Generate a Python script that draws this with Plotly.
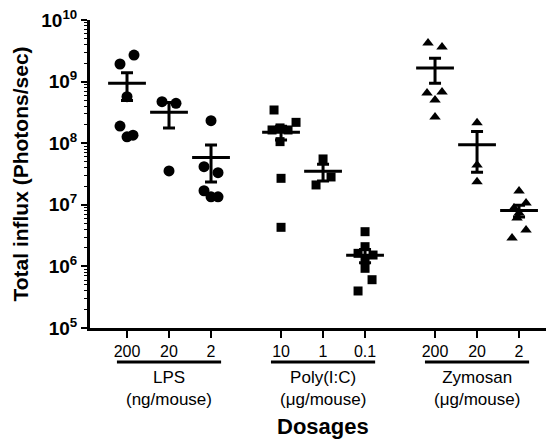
import numpy as np
import plotly.graph_objects as go

# ---------------- data ----------------
dose_labels = ["200", "20", "2", "10", "1", "0.1", "200", "20", "2"]
group_names = ["LPS<br>(ng/mouse)", "Poly(I:C)<br>(μg/mouse)", "Zymosan<br>(μg/mouse)"]

lps_200 = [2.7e9, 1.93e9, 5.7e8, 1.9e8, 1.27e8, 1.35e8]
lps_20 = [4.72e8, 4.44e8, 3.54e7]
lps_2 = [2.32e8, 4.16e7, 3.32e7, 1.69e7, 1.35e7, 1.35e7]

poly_10 = [3.46e8, 2.18e8, 1.64e8, 1.77e8, 1.64e8, 1.06e8, 2.69e7, 4.31e6]
poly_1 = [5.55e7, 2.83e7, 2.10e7]
poly_01 = [3.66e6, 2.09e6, 1.63e6, 1.53e6, 1.27e6, 9.31e5, 6.08e5, 3.99e5]

zym_200 = [4.24e9, 3.65e9, 6.78e8, 6.53e8, 5.02e8, 2.66e8]
zym_20 = [2.15e8, 4.43e7, 2.37e7]
zym_2 = [1.67e7, 1.07e7, 8.87e6, 7.36e6, 6.11e6, 3.9e6, 2.89e6]

threshold = 1.37e6

# ---------------- layout helpers (positions / styles) ----------------
xpos = [0, 1, 2, 3.667, 4.667, 5.667, 7.333, 8.333, 9.333]
group_centers = [1, 4.667, 8.333]
jit = 1 / 42.0  # one pixel in x units
jitter = [
    [7, -7, 0, -7, 0, 6],
    [-7, 7, 0],
    [0, -7, 7, -7, 0, 7],
    [-7, 15, -9, -1, 7, -1, 0, 0],
    [0, 8, -7],
    [0, 0, -7, 8, 0, 0, 7, -7],
    [-7, 7, 7, -8, 0, 0],
    [0, 0, 0],
    [0, 7, -5, 0, -2, 7, -7],
]
series = [lps_200, lps_20, lps_2, poly_10, poly_1, poly_01, zym_200, zym_20, zym_2]
symbols = ["circle"] * 3 + ["square"] * 3 + ["triangle-up"] * 3
sizes = [11] * 3 + [9] * 3 + [10] * 3

fig = go.Figure()

for i, vals in enumerate(series):
    xs = [xpos[i] + j * jit for j in jitter[i]]
    fig.add_trace(go.Scatter(
        x=xs, y=vals, mode="markers",
        marker=dict(symbol=symbols[i], size=sizes[i], color="black", line=dict(width=0)),
        showlegend=False, hoverinfo="y"))

# mean +/- SEM
means = [float(np.mean(v)) for v in series]
sems = [float(np.std(v, ddof=1) / np.sqrt(len(v))) for v in series]
fig.add_trace(go.Scatter(
    x=xpos, y=means, mode="markers",
    marker=dict(symbol="line-ew", size=27, color="black", line=dict(width=3, color="black")),
    error_y=dict(type="data", array=sems, symmetric=True, thickness=3, width=6, color="black"),
    showlegend=False, hoverinfo="y"))

# threshold dashed line
fig.add_shape(type="line", xref="paper", yref="y", x0=0, x1=0.995,
              y0=np.log10(threshold), y1=np.log10(threshold),
              line=dict(color="black", width=3, dash="10px,6px"))

# group underlines and labels
for c, name in zip(group_centers, group_names):
    fig.add_shape(type="line", xref="x", yref="paper", x0=c - 1.24, x1=c + 1.24,
                  y0=-0.110, y1=-0.110, line=dict(color="black", width=3))
    fig.add_annotation(x=c, y=-0.122, xref="x", yref="paper", text=name,
                       showarrow=False, yanchor="top", xanchor="center",
                       font=dict(size=17, color="black", family="Liberation Sans, Arial"))

fig.add_annotation(x=group_centers[1], y=-0.321, xref="x", yref="paper",
                   text="<b>Dosages</b>", showarrow=False, yanchor="middle",
                   font=dict(size=22, color="black", family="Liberation Sans, Arial"))

ytickvals = [1e5, 1e6, 1e7, 1e8, 1e9, 1e10]
yticktext = ["<b>10<sup>%d</sup></b>" % k for k in range(5, 11)]

# the page body adds an 8px margin, so the figure is 8px smaller on each side
fig.update_layout(
    width=546, height=433,
    margin=dict(l=82, r=4, t=12, b=113),
    plot_bgcolor="white", paper_bgcolor="white",
    font=dict(family="Liberation Sans, Arial", color="black"),
    xaxis=dict(
        range=[-0.881, 10.07], tickvals=xpos, ticktext=dose_labels, automargin=False,
        showgrid=False, zeroline=False, showline=True, linecolor="black", linewidth=3,
        ticks="outside", ticklen=7, tickwidth=2, tickcolor="black",
        tickfont=dict(size=16, color="black")),
    yaxis=dict(
        type="log", range=[5, 10], tickvals=ytickvals, ticktext=yticktext, automargin=False,
        ticklabeloverflow="allow",
        showgrid=False, zeroline=False, showline=True, linecolor="black", linewidth=3,
        ticks="outside", ticklen=6, tickwidth=2, tickcolor="black",
        tickfont=dict(size=19, color="black"),
        minor=dict(ticks="outside", ticklen=3, tickwidth=1, tickcolor="black",
                   dtick="D1", showgrid=False),
        title=dict(text="<b>Total influx (Photons/sec)</b>", standoff=7,
                   font=dict(size=21, color="black"))),
)

fig.write_html("out.html")
